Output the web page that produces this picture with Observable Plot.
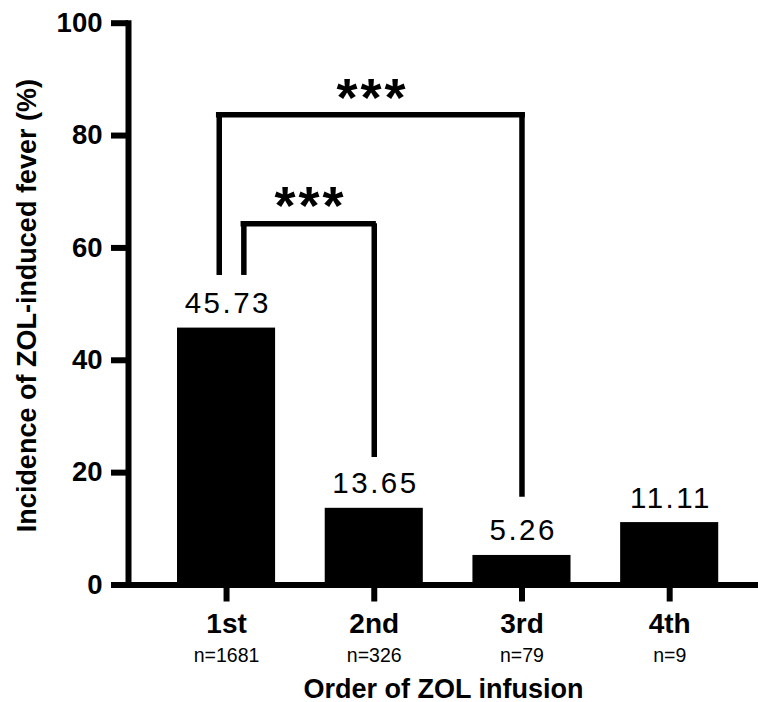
<!DOCTYPE html>
<html><head><meta charset="utf-8">
<script src="https://cdn.jsdelivr.net/npm/d3@7"></script>
<script src="https://cdn.jsdelivr.net/npm/@observablehq/plot@0.6"></script>
<style>html,body{margin:0;padding:0;background:#fff}svg{display:block}</style>
</head><body><div id="chart"></div>
<script>
// ---- data ----
const orders = ["1st", "2nd", "3rd", "4th"];
const incidence = [45.73, 13.65, 5.26, 11.11];
const valueLabels = ["45.73", "13.65", "5.26", "11.11"];
const sampleSizes = ["n=1681", "n=326", "n=79", "n=9"];
const yTicks = [0, 20, 40, 60, 80, 100];
const bracketFrom = ["1st", "1st"];
const bracketTo = ["3rd", "2nd"];
const bracketTop = [83.7, 64.3];
const bracketFromBottom = [55.1, 55.1];
const bracketToBottom = [15.6, 22.7];
const bracketMarks = ["***", "***"];
const xTitle = "Order of ZOL infusion";
const yTitle = "Incidence of ZOL-induced fever (%)";

const bars = orders.map((o, i) => ({order: o, value: incidence[i], label: valueLabels[i], n: sampleSizes[i]}));
const brackets = bracketFrom.map((f, i) => ({
  from: f, to: bracketTo[i], top: bracketTop[i],
  fromBottom: bracketFromBottom[i], toBottom: bracketToBottom[i], mark: bracketMarks[i]
}));

// ---- styling (pixel offsets) ----
const bracketStyle = [
  {legDx: -7.3, insetLeft: 41.7, insetRight: 48.3, starDx: 146, starDy: 1.5},
  {legDx: 17.3, insetLeft: 66.3, insetRight: 49.7, starDx: 84, starDy: 0.5}
];
const LW = 5.5;

const bracketMarksList = brackets.flatMap((b, i) => {
  const s = bracketStyle[i];
  return [
    Plot.ruleX([b], {x: "from", y1: "fromBottom", y2: "top", dx: s.legDx, strokeWidth: LW}),
    Plot.ruleX([b], {x: "to", y1: "toBottom", y2: "top", strokeWidth: LW}),
    Plot.ruleY([b], {x1: "from", x2: "to", y: "top", insetLeft: s.insetLeft, insetRight: s.insetRight, strokeWidth: LW, strokeLinecap: "square"}),
    Plot.text([b], {x: "from", y: "top", text: "mark", dx: s.starDx, dy: s.starDy, lineAnchor: "bottom", fontSize: 54, fontWeight: "bold"})
  ];
});

const chart = Plot.plot({
  width: 758,
  height: 702,
  marginLeft: 128,
  marginRight: 0,
  marginTop: 22.7,
  marginBottom: 117.5,
  style: {fontFamily: "'Liberation Sans', Arial, sans-serif", background: "white", color: "black"},
  x: {type: "band", domain: orders, paddingInner: 0.336, paddingOuter: 0.3005, align: 0.552, round: false},
  y: {domain: [0, 100]},
  marks: [
    Plot.barY(bars, {x: "order", y: "value", fill: "black"}),
    Plot.ruleY([0], {strokeWidth: 6, strokeLinecap: "square"}),
    Plot.frame({anchor: "left", strokeWidth: 6, strokeLinecap: "square"}),
    Plot.axisY({ticks: yTicks, tickSize: 17, strokeWidth: 6, tickPadding: 9, fontSize: 27.5, fontWeight: "bold", label: null}),
    Plot.axisX({tickSize: 17, strokeWidth: 6, tickPadding: 11, fontSize: 28, fontWeight: "bold", label: null}),
    Plot.text(bars, {x: "order", y: "value", text: "label", lineAnchor: "bottom", dy: -15, dx: 1.25, fontSize: 29.5}),
    Plot.text(bars, {x: "order", text: "n", frameAnchor: "bottom", lineAnchor: "bottom", dy: 76.5, fontSize: 19.5}),
    Plot.text([xTitle], {text: d => d, frameAnchor: "bottom", lineAnchor: "bottom", dy: 112.5, fontSize: 27, fontWeight: "bold"}),
    Plot.text([yTitle], {text: d => d, frameAnchor: "left", textAnchor: "middle", rotate: -90, dx: -93, dy: 1.5, lineAnchor: "bottom", fontSize: 27, fontWeight: "bold"}),
    ...bracketMarksList
  ]
});

// widen the value labels and the significance stars (letter spacing)
const textGroups = chart.querySelectorAll('g[aria-label="text"]');
// order of text marks: value labels, n labels, x title, y title, stars, stars
if (textGroups[0]) textGroups[0].querySelectorAll("text").forEach(t => t.setAttribute("letter-spacing", "2.5"));
[4, 5].forEach(k => { if (textGroups[k]) textGroups[k].querySelectorAll("text").forEach(t => t.setAttribute("letter-spacing", "3")); });
document.getElementById("chart").append(chart);
</script>
</body></html>
